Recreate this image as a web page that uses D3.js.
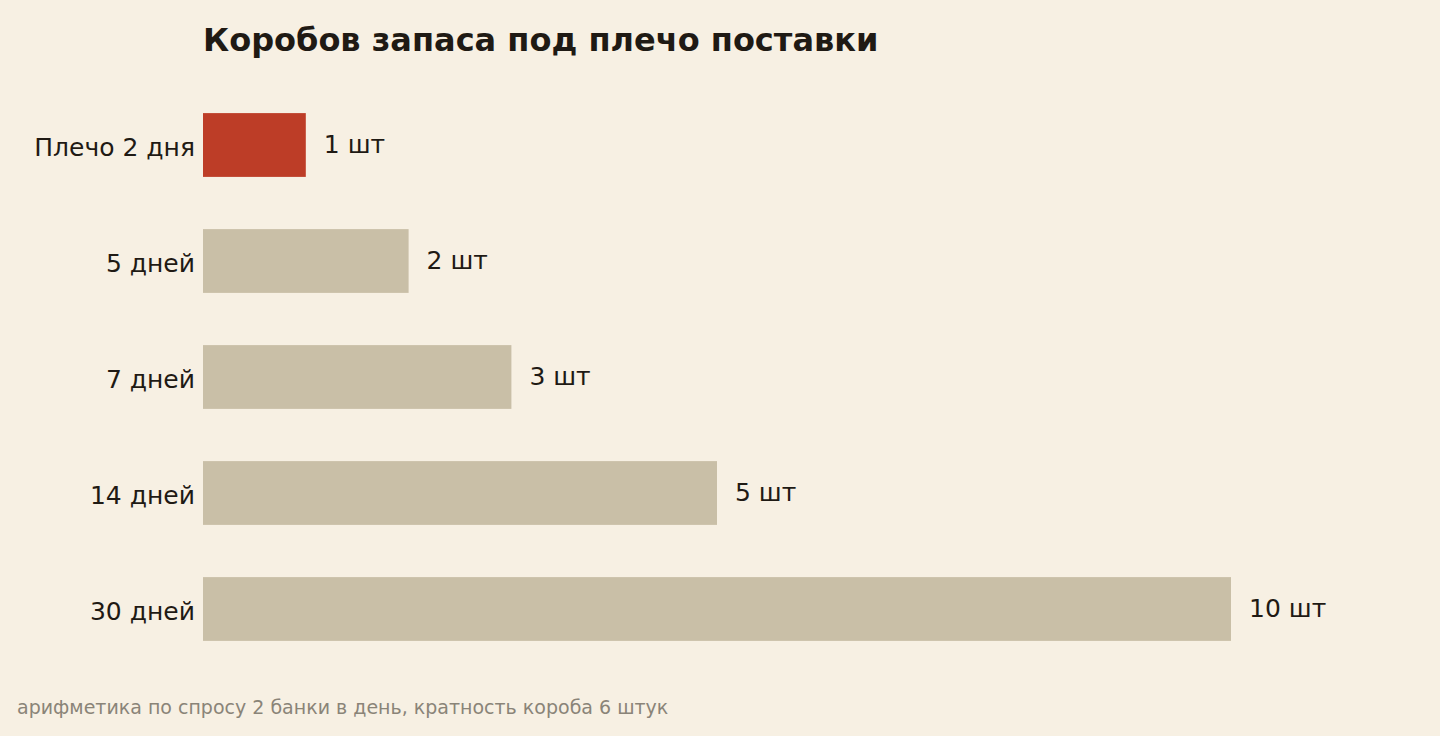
<!DOCTYPE html>
<html><head><meta charset="utf-8">
<script src="https://cdn.jsdelivr.net/npm/d3@7"></script>
<style>body{margin:0;background:#f7f0e3;}svg{display:block;font-family:"DejaVu Sans",sans-serif;}</style>
</head><body>
<script>
const categories = ["Плечо 2 дня","5 дней","7 дней","14 дней","30 дней"];
const values = [1,2,3,5,10];
const valueLabels = ["1 шт","2 шт","3 шт","5 шт","10 шт"];
const title = "Коробов запаса под плечо поставки";
const note = "арифметика по спросу 2 банки в день, кратность короба 6 штук";

const W=1440,H=736;
const svg=d3.select("body").append("svg").attr("width",W).attr("height",H);
svg.append("rect").attr("width",W).attr("height",H).attr("fill","#f7f0e3");
const x=d3.scaleLinear().domain([0,10]).range([203,1231]);
const y=d3.scaleBand().domain(categories).range([87,667]).paddingInner(0.45).paddingOuter(0.225);

svg.append("text").attr("x",203).attr("y",51).attr("font-size",32).attr("font-weight","bold").attr("fill","#1f1a14").text(title);

svg.selectAll("rect.bar").data(values).join("rect").attr("class","bar")
 .attr("x",x(0)).attr("y",(d,i)=>y(categories[i])).attr("width",d=>x(d)-x(0)).attr("height",y.bandwidth())
 .attr("fill",(d,i)=>i===0?"#bd3d27":"#c9bfa7");

svg.selectAll("text.cat").data(categories).join("text").attr("class","cat")
 .attr("x",195).attr("y",d=>y(d)+y.bandwidth()/2).attr("dy","0.45em").attr("text-anchor","end")
 .attr("font-size",25).attr("fill","#1f1a14").text(d=>d);

svg.selectAll("text.val").data(values).join("text").attr("class","val")
 .attr("x",d=>x(d)+18).attr("y",(d,i)=>y(categories[i])+y.bandwidth()/2).attr("dy","0.3em")
 .attr("font-size",25).attr("fill","#1f1a14").text((d,i)=>valueLabels[i]);

svg.append("text").attr("x",17).attr("y",714).attr("font-size",19).attr("fill","#8a8478").text(note);
</script>
</body></html>
